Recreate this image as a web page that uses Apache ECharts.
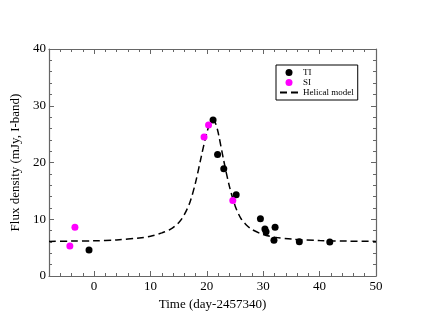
<!DOCTYPE html>
<html><head><meta charset="utf-8">
<script src="https://cdn.jsdelivr.net/npm/echarts@6/dist/echarts.min.js"></script>
<style>html,body{margin:0;padding:0;background:#fff}#c{width:423px;height:327px}</style>
</head><body><div id="c"></div>
<script>
// TI observations [time, flux]
const tiData = [
  [-0.9, 4.6], [21.1, 27.5], [21.9, 21.4], [23.0, 18.9], [25.2, 14.3],
  [29.5, 10.1], [30.3, 8.3], [30.5, 7.8], [32.1, 8.6], [31.9, 6.3],
  [36.4, 6.05], [41.8, 6.0]
];
// SI observations [time, flux]
const siData = [
  [-4.3, 5.3], [-3.4, 8.6], [19.5, 24.5], [20.3, 26.6], [24.6, 13.3]
];
// Helical model curve [time, flux]
const modelData = [
  [-8, 6.1], [-4, 6.15], [0, 6.2], [4, 6.35], [8, 6.7], [10, 7.0], [12, 7.6],
  [13.5, 8.2], [15, 9.4], [16, 10.8], [17, 13.0], [18, 16.5], [19, 21.0],
  [20, 25.3], [20.6, 27.0], [21, 27.5], [21.5, 27.0], [22, 25.3], [23, 20.3], [24, 15.8],
  [25, 12.4], [26, 10.2], [27, 9.0], [28, 8.2], [30, 7.3], [32, 6.85],
  [35, 6.5], [40, 6.25], [45, 6.15], [50, 6.1]
];
const xMajor = [0, 10, 20, 30, 40, 50];
const yMajor = [0, 10, 20, 30, 40];

const font = 'Liberation Serif';
const axisColor = '#666';
function xAx(pos, major, showLine) {
  return {
    type: 'value', position: pos, min: -8, max: 50,
    interval: major ? undefined : 2,
    axisLine: { show: showLine, onZero: false, lineStyle: { color: axisColor, width: 1.2 } },
    axisTick: major ? { inside: true, length: 5, customValues: xMajor, lineStyle: { color: axisColor } }
                    : { inside: true, length: 3, lineStyle: { color: axisColor } },
    axisLabel: (major && pos === 'bottom') ? { customValues: xMajor, color: '#000', fontFamily: font, fontSize: 13, margin: 4 } : { show: false },
    splitLine: { show: false }
  };
}
function yAx(pos, major, showLine) {
  return {
    type: 'value', position: pos, min: 0, max: 40,
    interval: major ? 10 : 2,
    axisLine: { show: showLine, onZero: false, lineStyle: { color: axisColor, width: 1.2 } },
    axisTick: major ? { inside: true, length: 5, lineStyle: { color: axisColor } }
                    : { inside: true, length: 3, lineStyle: { color: axisColor } },
    axisLabel: (major && pos === 'left') ? { color: '#000', fontFamily: font, fontSize: 13, margin: 3 } : { show: false },
    splitLine: { show: false }
  };
}
const xs = [xAx('bottom', true, true), xAx('bottom', false, false), xAx('top', true, true), xAx('top', false, false)];
xs[0].name = 'Time (day-2457340)';
xs[0].nameLocation = 'middle';
xs[0].nameGap = 16;
xs[0].nameTextStyle = { fontFamily: font, fontSize: 13, color: '#000' };
const ys = [yAx('left', true, true), yAx('left', false, false), yAx('right', true, true), yAx('right', false, false)];
ys[0].name = 'Flux density (mJy, I-band)';
ys[0].nameLocation = 'middle';
ys[0].nameGap = 20;
ys[0].nameTextStyle = { fontFamily: font, fontSize: 13, color: '#000' };

const chart = echarts.init(document.getElementById('c'), null, { renderer: 'canvas' });
chart.setOption({
  animation: false,
  backgroundColor: '#fff',
  grid: { left: 49, right: 47, top: 49, bottom: 51 },
  xAxis: xs,
  yAxis: ys,
  legend: {
    orient: 'vertical', left: 276, top: 65,
    padding: [3, 4, 3, 3], itemGap: 1, itemWidth: 18, itemHeight: 7,
    borderColor: '#000', borderWidth: 1,
    textStyle: { fontFamily: font, fontSize: 9, color: '#000' },
    data: [
      { name: 'TI', icon: 'circle' },
      { name: 'SI', icon: 'circle' },
      { name: 'Helical model', itemStyle: { opacity: 0 } }
    ]
  },
  series: [
    {
      name: 'Helical model', type: 'line', data: modelData, smooth: 0.3,
      symbol: 'none', z: 1,
      lineStyle: { color: '#000', width: 1.5, type: [7, 4] },
      itemStyle: { color: '#000' }
    },
    {
      name: 'TI', type: 'scatter', data: tiData, symbol: 'circle', symbolSize: 7,
      itemStyle: { color: '#000', opacity: 1 }, z: 3
    },
    {
      name: 'SI', type: 'scatter', data: siData, symbol: 'circle', symbolSize: 7,
      itemStyle: { color: '#ff00ff', opacity: 1 }, z: 3
    }
  ]
});
</script></body></html>
